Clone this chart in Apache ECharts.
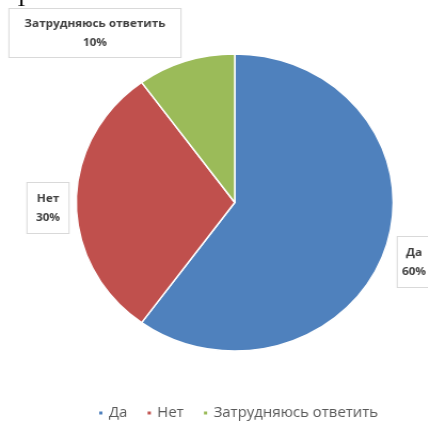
<!DOCTYPE html>
<html>
<head>
<meta charset="utf-8">
<script src="https://cdn.jsdelivr.net/npm/echarts@6/dist/echarts.min.js"></script>
<style>
  html, body { margin: 0; padding: 0; background: #ffffff; overflow: hidden; }
  #wrap { width: 428px; height: 421px; overflow: hidden; position: relative; }
  /* the chart is drawn slightly narrower and stretched horizontally */
  #chart { width: 401px; height: 421px; transform: scaleX(1.067); transform-origin: 0 0; }
</style>
</head>
<body>
<div id="wrap"><div id="chart"></div></div>
<script>
// Survey answers and their shares (%)
const categories = ['Да', 'Нет', 'Затрудняюсь ответить'];
const shares = [60, 30, 10];
const colors = ['#4F81BD', '#C0504D', '#9BBB59'];

// per-label box placement (chart pixels) and padding
const labelSpots = [
  { x: 388, y: 262, padding: [6, 4, 6, 4] },
  { x: 45, y: 208, padding: [6, 8, 6, 8] },
  { x: 89, y: 33, padding: [5, 14, 5, 14] }
];

const chart = echarts.init(document.getElementById('chart'), null, { renderer: 'canvas' });

const data = categories.map((name, i) => ({
  name: name,
  value: shares[i],
  itemStyle: { color: colors[i] },
  label: { padding: labelSpots[i].padding }
}));

chart.setOption({
  animation: false,
  backgroundColor: '#ffffff',
  textStyle: { fontFamily: 'Open Sans, Liberation Sans, sans-serif' },
  graphic: [{
    type: 'text',
    left: 14,
    top: -9,
    style: { text: 'Т', fontFamily: 'Liberation Serif', fontSize: 20, fill: '#000000' }
  }],
  legend: {
    top: 401,
    left: 86,
    itemWidth: 5,
    itemHeight: 5,
    itemGap: 17,
    icon: 'rect',
    data: categories,
    textStyle: { color: '#595959', fontSize: 14, fontFamily: 'Open Sans, sans-serif' }
  },
  series: [{
    type: 'pie',
    center: [220, 202.5],
    radius: [0, 148.5],
    startAngle: 90,
    clockwise: true,
    data: data,
    itemStyle: { borderColor: '#ffffff', borderWidth: 1.5 },
    labelLine: { show: false },
    label: {
      show: true,
      position: 'inside',
      overflow: 'none',
      formatter: '{b}\n{d}%',
      color: '#404040',
      fontSize: 11,
      fontWeight: 'bold',
      lineHeight: 19,
      align: 'center',
      backgroundColor: '#ffffff',
      borderColor: '#d9d9d9',
      borderWidth: 1
    },
    labelLayout: function (params) {
      const s = labelSpots[params.dataIndex];
      return { x: s.x, y: s.y, align: 'center', verticalAlign: 'middle' };
    }
  }]
});
</script>
</body>
</html>
